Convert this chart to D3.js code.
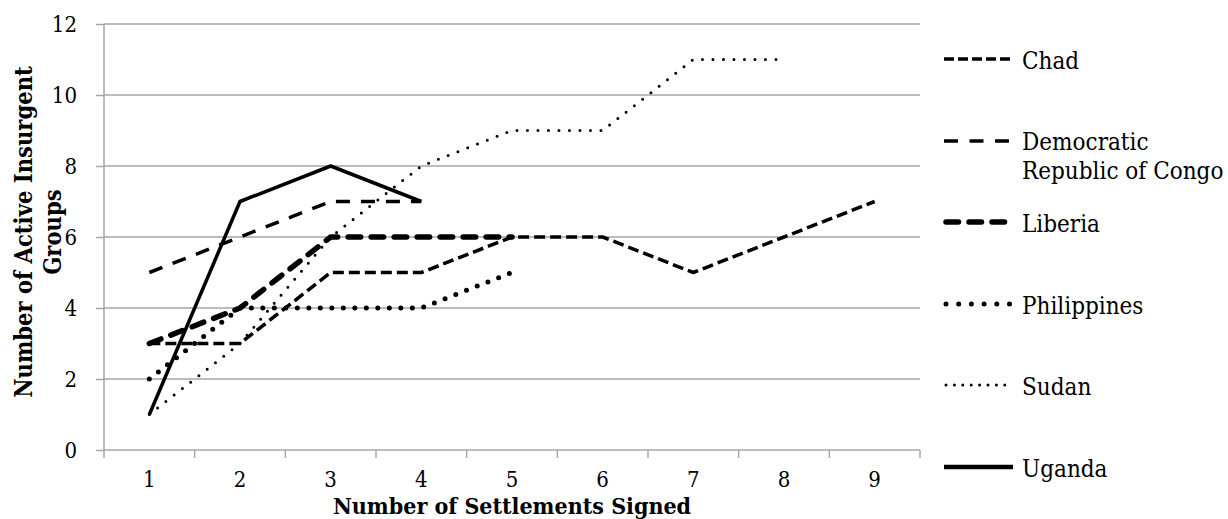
<!DOCTYPE html>
<html><head><meta charset="utf-8">
<script src="https://cdn.jsdelivr.net/npm/d3@7"></script>
<style>body{margin:0;background:#fff}svg{display:block}</style>
</head><body>
<script>
const categories = [1,2,3,4,5,6,7,8,9];
const seriesNames = ["Chad","Democratic Republic of Congo","Liberia","Philippines","Sudan","Uganda"];
const chad = [3,3,5,5,6,6,5,6,7];
const drc = [5,6,7,7];
const liberia = [3,4,6,6,6];
const philippines = [2,4,4,4,5];
const sudan = [1,3,6,8,9,9,11,11];
const uganda = [1,7,8,7];
const yTicks = [0,2,4,6,8,10,12];

const W=1228,H=519;
const pL=104,pR=920,pT=24,pB=450;
const svg=d3.select("body").append("svg").attr("width",W).attr("height",H);
const font="'DejaVu Serif Condensed', 'Liberation Serif', serif";
const x=d3.scaleBand().domain(categories).range([pL,pR]);
const y=d3.scaleLinear().domain([0,12]).range([pB,pT]);
const grid="#a6a6a6";

svg.append("g").selectAll("line").data(yTicks.filter(d=>d>0)).join("line")
 .attr("x1",pL).attr("x2",pR).attr("y1",d=>y(d)).attr("y2",d=>y(d))
 .attr("stroke",grid).attr("stroke-width",1.5);

const ya=svg.append("g").attr("transform",`translate(${pL},0)`)
 .call(d3.axisLeft(y).tickValues(yTicks).tickSize(8).tickPadding(19));
ya.select(".domain").attr("stroke",grid).attr("stroke-width",1.5).attr("d",`M0,${pT}V${pB}`);
ya.selectAll(".tick line").attr("stroke",grid).attr("stroke-width",1.5);
ya.selectAll("text").attr("font-family",font).attr("font-size",22).attr("fill","#000");

const xa=svg.append("g").attr("transform",`translate(0,${pB})`)
 .call(d3.axisBottom(x).tickSize(0).tickPadding(21));
xa.select(".domain").attr("stroke",grid).attr("stroke-width",1.5).attr("d",`M${pL},0H${pR}`);
xa.selectAll("text").attr("font-family",font).attr("font-size",22).attr("fill","#000");
svg.append("g").selectAll("line").data(d3.range(categories.length+1)).join("line")
 .attr("x1",i=>pL+i*x.step()).attr("x2",i=>pL+i*x.step())
 .attr("y1",pB).attr("y2",pB+8).attr("stroke",grid).attr("stroke-width",1.5);

const styles={
 "Chad":{w:3.5,dash:"11,5",ldash:"10,4",cap:"butt"},
 "Democratic Republic of Congo":{w:3.5,dash:"14,11",ldash:"14,11.5",cap:"butt"},
 "Liberia":{w:5.5,dash:"12.5,10.5",ldash:"12.5,10.5",cap:"round"},
 "Philippines":{w:5,dash:"0,11.5",ldash:"0,12.7",cap:"round"},
 "Sudan":{w:3,dash:"0,10.5",ldash:"0,8.4",cap:"round"},
 "Uganda":{w:3.5,dash:null,ldash:null,cap:"butt",lw:4.5}
};
const data=[chad,drc,liberia,philippines,sudan,uganda];
const line=d3.line().x((d,i)=>x(categories[i])+x.bandwidth()/2).y(d=>y(d));
seriesNames.forEach((n,k)=>{
 const s=styles[n];
 svg.append("path").attr("d",line(data[k])).attr("fill","none").attr("stroke","#000")
  .attr("stroke-width",s.w).attr("stroke-dasharray",s.dash).attr("stroke-linecap",s.cap)
  .attr("stroke-linejoin","round");
});

const legY=[59,141,222,304,385,467];
seriesNames.forEach((n,k)=>{
 const s=styles[n];
 const x1 = s.cap==="round" ? 946 : 944, x2 = s.cap==="round" ? 1011 : 1013;
 svg.append("line").attr("x1",x1).attr("x2",x2).attr("y1",legY[k]).attr("y2",legY[k])
  .attr("stroke","#000").attr("stroke-width",s.lw||s.w).attr("stroke-dasharray",s.ldash).attr("stroke-linecap",s.cap);
 const t=svg.append("text").attr("x",1022).attr("y",legY[k]+10).attr("font-family",font).attr("font-size",24);
 if(n==="Democratic Republic of Congo"){
  t.attr("y",legY[k]+9);
  t.append("tspan").attr("x",1022).text("Democratic");
  t.append("tspan").attr("x",1022).attr("dy",29).text("Republic of Congo");
 } else t.text(n);
});

svg.append("text").attr("x",512).attr("y",514).attr("text-anchor","middle")
 .attr("font-family",font).attr("font-weight","bold").attr("font-size",23).text("Number of Settlements Signed");
const yt=svg.append("text").attr("transform","translate(32,232) rotate(-90)").attr("text-anchor","middle")
 .attr("font-family",font).attr("font-weight","bold").attr("font-size",23.5);
yt.append("tspan").attr("x",0).attr("y",0).text("Number of Active Insurgent");
yt.append("tspan").attr("x",0).attr("y",29).text("Groups");
</script>
</body></html>
